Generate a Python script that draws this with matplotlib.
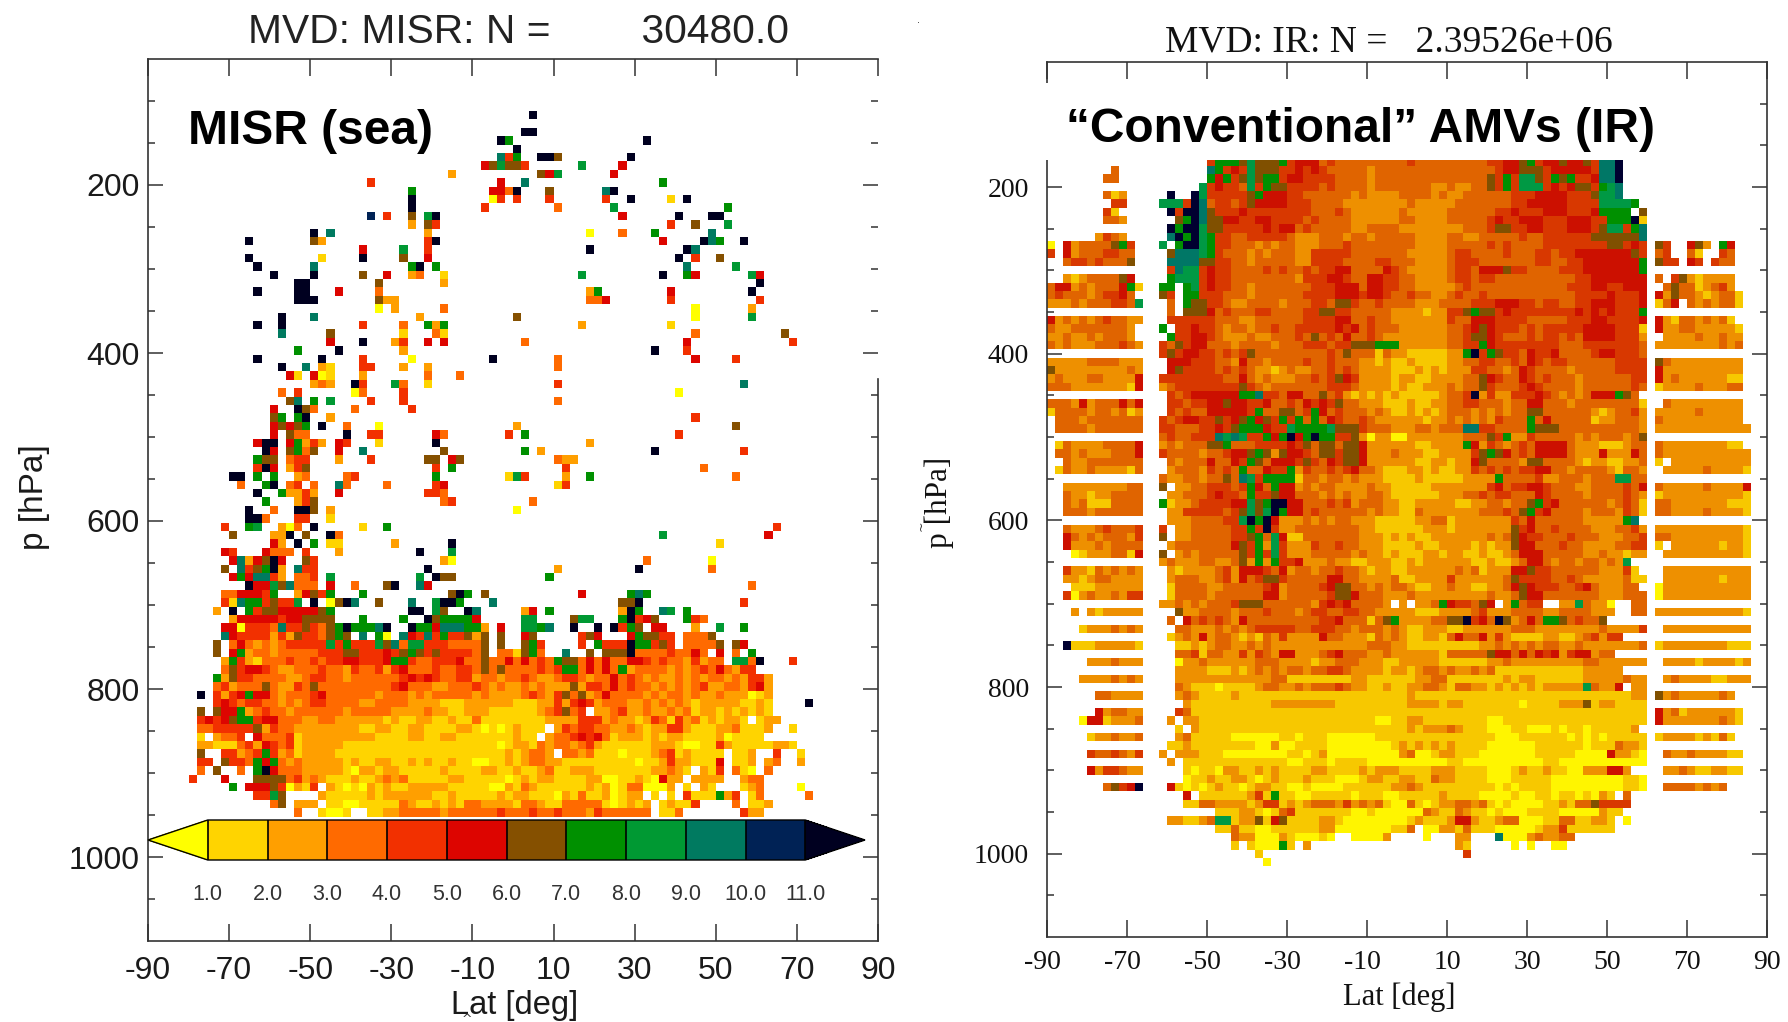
import numpy as np
import matplotlib
matplotlib.use('Agg')
import matplotlib.pyplot as plt
from matplotlib.colors import ListedColormap, BoundaryNorm
from matplotlib.patches import Rectangle
from matplotlib.cm import ScalarMappable
from matplotlib.transforms import ScaledTranslation

W, H = 1788, 1022

lat_ticks = [-90, -70, -50, -30, -10, 10, 30, 50, 70, 90]
p_major = [200, 400, 600, 800, 1000]
p_minor = [100, 150, 250, 300, 350, 450, 500, 550, 650, 700, 750, 850, 900, 950, 1050]
cbar_bounds = [1, 2, 3, 4, 5, 6, 7, 8, 9, 10, 11]
cbar_labels = ['1.0', '2.0', '3.0', '4.0', '5.0', '6.0', '7.0', '8.0', '9.0', '10.0', '11.0']

misr_colors = ['#ffff00', '#ffd400', '#ff9f00', '#ff6a00', '#f23000', '#dd0500',
               '#855000', '#009000', '#009933', '#007a60', '#002255', '#000020']
ir_colors = ['#fff500', '#f7c800', '#ee9000', '#e06400', '#d83800', '#cc1000',
             '#805000', '#009000', '#009944', '#007766', '#001144', '#000030']

# class of each cell: p row -> {column: class}, column 0 starts at -90, 2 deg wide
misr_sparse = {
    120: {47: 11},
    140: {46: 11, 47: 11},
    150: {43: 11, 44: 7, 61: 11},
    160: {45: 11},
    170: {43: 9, 44: 4, 45: 7, 48: 11, 49: 11, 50: 6, 59: 11},
    180: {41: 5, 42: 6, 43: 8, 44: 6, 45: 6, 46: 4, 53: 8, 58: 5},
    190: {37: 2, 48: 6, 49: 5, 50: 8, 57: 5},
    200: {27: 4, 43: 5, 46: 9, 63: 7},
    210: {32: 7, 42: 5, 43: 5, 44: 3, 45: 11, 49: 6, 56: 9, 57: 11},
    220: {32: 11, 42: 0, 43: 4, 45: 4, 49: 4, 56: 4, 59: 11, 64: 1, 66: 11},
    230: {32: 11, 41: 4, 50: 3, 57: 8, 71: 7},
    240: {27: 10, 29: 4, 32: 6, 34: 8, 35: 11, 58: 5, 65: 11, 69: 11, 70: 11},
    250: {32: 2, 34: 6, 35: 4, 64: 4, 67: 6, 71: 8},
    260: {20: 11, 22: 9, 34: 2, 54: 0, 58: 3, 62: 7, 69: 9},
    270: {12: 11, 20: 6, 21: 2, 34: 4, 35: 11, 63: 5, 68: 11, 69: 9, 70: 7, 73: 11},
    280: {26: 5, 31: 8, 34: 4, 54: 11, 66: 11, 67: 9},
    290: {12: 11, 21: 1, 26: 11, 31: 6, 34: 5, 65: 11, 67: 4, 70: 6},
    300: {13: 11, 20: 9, 32: 7, 33: 11, 35: 7, 66: 9, 72: 8},
    310: {15: 11, 20: 11, 26: 6, 29: 5, 32: 2, 33: 3, 36: 1, 53: 8, 63: 11, 66: 7, 67: 5, 74: 8, 75: 5},
    320: {18: 11, 19: 11, 28: 6, 36: 2, 75: 11},
    330: {13: 11, 18: 11, 19: 11, 23: 5, 28: 3, 54: 2, 55: 7, 64: 5, 74: 11},
    340: {18: 11, 19: 11, 20: 11, 28: 6, 29: 2, 30: 2, 54: 3, 55: 3, 56: 5, 64: 4, 75: 4},
    350: {28: 0, 30: 2, 36: 3, 67: 0, 74: 2},
    360: {16: 11, 20: 9, 33: 2, 45: 6, 67: 0, 74: 8},
    370: {13: 11, 16: 11, 26: 4, 31: 3, 34: 7, 35: 2, 36: 7, 53: 2, 64: 1},
    380: {16: 9, 22: 6, 31: 1, 35: 3, 36: 1, 67: 3, 78: 6},
    390: {22: 5, 26: 11, 30: 2, 31: 4, 34: 5, 36: 5, 46: 3, 66: 5, 79: 4},
    400: {18: 7, 23: 11, 31: 2, 62: 11, 66: 4},
    410: {13: 11, 21: 11, 26: 4, 32: 0, 42: 11, 50: 3, 67: 5, 72: 4},
    420: {16: 11, 19: 9, 21: 2, 22: 1, 26: 4, 27: 4, 31: 2, 34: 2, 50: 3},
    430: {17: 5, 18: 1, 20: 5, 21: 0, 22: 1, 26: 2, 34: 3, 38: 3},
    440: {20: 2, 21: 3, 22: 2, 25: 11, 26: 4, 30: 8, 31: 3, 34: 1, 50: 4, 73: 9},
    450: {16: 3, 18: 4, 25: 0, 26: 3, 31: 4, 65: 0},
    460: {17: 6, 18: 9, 20: 7, 22: 8, 27: 4, 31: 4, 50: 3},
    470: {15: 5, 18: 11, 19: 6, 20: 3, 25: 3, 32: 4},
    480: {15: 6, 16: 7, 18: 7, 19: 11, 22: 2, 67: 4},
    490: {15: 5, 16: 6, 17: 5, 18: 6, 19: 7, 21: 11, 24: 3, 28: 0, 45: 2, 72: 6},
    500: {15: 5, 17: 6, 18: 3, 19: 3, 24: 11, 27: 4, 28: 4, 35: 5, 36: 3, 44: 4, 46: 7, 65: 4},
    510: {13: 5, 14: 11, 15: 11, 17: 5, 18: 7, 19: 2, 20: 4, 21: 2, 23: 5, 24: 4, 28: 1, 35: 11, 54: 2},
    520: {14: 11, 15: 5, 17: 6, 18: 7, 19: 3, 20: 6, 23: 5, 26: 9, 36: 6, 46: 7, 48: 2, 62: 11, 73: 4},
    530: {13: 7, 14: 6, 15: 6, 17: 3, 18: 4, 19: 4, 23: 2, 27: 4, 34: 6, 35: 6, 37: 5, 38: 6, 50: 3, 51: 2, 52: 2},
    540: {13: 4, 14: 11, 15: 5, 17: 2, 18: 4, 19: 6, 35: 4, 37: 7, 51: 4, 68: 3},
    550: {10: 11, 11: 11, 13: 7, 15: 7, 18: 2, 19: 3, 24: 3, 25: 4, 35: 7, 44: 1, 45: 8, 46: 4, 51: 2, 54: 7, 72: 3},
    560: {11: 3, 14: 7, 15: 11, 17: 3, 18: 4, 20: 3, 23: 9, 24: 3, 29: 3, 35: 4, 36: 5, 50: 1, 51: 4},
    570: {13: 11, 16: 7, 17: 2, 18: 2, 19: 4, 20: 2, 23: 5, 34: 4, 35: 4, 36: 3},
    580: {14: 7, 18: 2, 19: 4, 20: 6, 36: 3, 37: 4, 47: 3},
    590: {12: 11, 15: 3, 18: 11, 19: 11, 20: 6, 22: 2, 45: 0},
    600: {12: 11, 13: 11, 14: 3, 18: 4, 19: 4, 22: 1},
    610: {9: 4, 12: 7, 13: 8, 16: 2, 17: 0, 18: 3, 20: 11, 26: 1, 29: 7, 77: 4},
    620: {10: 6, 15: 2, 16: 2, 17: 11, 19: 6, 22: 11, 23: 3, 63: 8, 76: 5},
    630: {15: 5, 16: 2, 18: 11, 20: 7, 22: 1, 23: 1, 30: 2, 37: 11, 70: 1},
    640: {9: 5, 10: 4, 14: 5, 15: 3, 16: 3, 17: 3, 19: 4, 23: 2, 33: 11, 37: 8},
    650: {10: 5, 11: 9, 12: 2, 13: 5, 14: 6, 15: 11, 16: 5, 19: 6, 20: 4, 36: 2, 37: 0, 61: 3, 69: 0},
    660: {9: 6, 11: 9, 12: 4, 13: 6, 14: 7, 15: 11, 16: 2, 18: 9, 19: 4, 20: 4, 34: 11, 50: 2, 60: 11, 69: 3},
    670: {10: 5, 11: 7, 12: 5, 13: 9, 14: 9, 15: 4, 16: 2, 18: 3, 19: 3, 20: 4, 22: 8, 33: 8, 35: 11, 36: 6, 37: 6, 49: 7},
    680: {12: 11, 13: 5, 14: 5, 15: 8, 16: 6, 17: 9, 18: 3, 19: 3, 20: 3, 22: 5, 25: 3, 29: 6, 30: 11, 33: 9, 34: 5, 74: 3},
    690: {9: 3, 10: 3, 11: 5, 12: 5, 13: 5, 14: 4, 15: 7, 18: 2, 19: 5, 20: 6, 21: 4, 22: 7, 26: 7, 37: 6, 38: 11, 39: 7, 41: 6, 53: 5, 59: 7, 60: 9, 61: 7},
    700: {9: 4, 10: 1, 11: 9, 12: 7, 13: 7, 14: 4, 15: 6, 16: 4, 17: 4, 18: 8, 20: 11, 22: 0, 23: 6, 24: 11, 25: 9, 28: 6, 32: 9, 35: 8, 36: 11, 37: 11, 38: 7, 42: 9, 58: 6, 59: 6, 60: 11, 73: 4},
    710: {8: 2, 10: 11, 12: 7, 13: 4, 14: 6, 15: 6, 16: 5, 17: 5, 18: 5, 19: 5, 20: 5, 21: 6, 22: 7, 32: 11, 33: 11, 35: 8, 36: 6, 39: 11, 40: 9, 46: 2, 47: 5, 49: 7, 58: 2, 59: 11, 60: 7, 63: 9, 64: 8, 66: 7},
}

# dense rows: ten columns in each group, '.' is no data, a/b are classes 10/11
misr_rows = {
    720: ". 2555554556 666...7... .7..b67777 5.....88.. ..688...7b 456...743.",
    730: ".........5 5044439446 4367b7779b ..b7759997 72.5..8879 ..b..b.b47 6.55...2.. 8..7",
    740: ".........9 5444424264 43676.9.70 .954947446 26.6..56.. ...465...5 76644.3336",
    750: "........6. 3532323444 4484744486 9388444333 36.6..674. ...4.7444b 77464.3333 6.65",
    760: "........6. 5723323333 3444664445 4676464444 36.331673. .9..6.666b 333343353. 5.3.7",
    770: ".........2 7421333433 4344554445 7743344453 3633535343 7663535335 5434332423 3.883b...4",
    780: ".........3 6455432233 3433243342 4533343344 3636333343 4773535372 3333232343 53244",
    790: "........72 6443333223 4433233333 3454543344 2332334322 3443233534 3232232323 3232442",
    800: "........34 2333632243 6333333333 4533322333 4323223232 2262443534 3323232342 2332452",
    810: "......b.42 4575532333 4533333323 3323233333 2322223432 4636235333 3232332322 3222012",
    820: "........45 4344332323 4433332233 3322221112 2222211122 4245423332 2323232122 2221121 .b",
    830: "......6.65 5723433233 3333233333 2222322112 2211111123 4634.22342 2322323122 1212121",
    840: "......4545 6774553332 2332222221 2112211211 3111111112 2224442322 1243142312 1221.122",
    850: "......3344 4446243322 2222221122 1122111122 101012111. 2434433223 2122442111 2231112..1",
    860: "......1.23 34.5333412 2222222211 1122112211 11111211.2 3345453122 2121221111 201111",
    870: "......2211 1342543412 2222111111 1111111111 1110122132 3323421111 1122210011 4211111221",
    880: "......6..4 4234742312 2221111111 1111111111 1111212332 .332311101 1123412111 1.112..4.. 1",
    890: "......44.6 4437573232 2222121122 1121211211 0011212332 2111111111 0112422111 5.112.23.. 2",
    900: "......3.6. .3.7b53332 2222102212 2111112111 1221121123 1122211111 1122321.21 4.310.3",
    910: ".....4...5 ...6666342 3211121123 2311111221 1111012122 1111220011 210522.222 2..233",
    920: ". 7.55564021 4.21010212 1122222111 1100213211 1111212013 30002.1.21 ...123.... 0",
    930: ". ...4486... .211111212 2222211211 1112122111 0213112012 2.1.1.4111 724.13.... .3",
    940: ". .....36.22 2.11001111 1321121213 3222213321 1333331012 12.12114.. ..3.112",
    950: ". ........3. .1001..112 2333332333 3334333433 4333243333 33.113.... ...422",
}

ir_rows = {
    170: ". . 4777686667 4555343333 3333343333 3333344556 7455655649 9b",
    180: "........3 . 9745486664 4545433333 2333333333 3333334556 6645555549 9b",
    190: ".......33 . 7574686774 5544443333 2333333333 3333364748 8647674459 9b",
    200: ". .........8 4544384766 4444343333 2333333322 3223364748 8845456647 89",
    210: ".......312 .....b..b8 4444467555 4433333323 2222333323 2233333344 4555544468 89",
    220: "........44 ....8884b9 3443465555 4443333222 2222232222 2333333344 5555544448 8887",
    230: ".......41. .....b4bb9 6444544444 4443334322 2222322222 3333334454 4455544457 777.6",
    240: ".......332 ......67b9 6655445544 4434333322 2222332222 3333345445 5544455544 777b1",
    250: ". .....b7bb8 6644444545 5343333322 3333222222 2233346644 5544455546 88479",
    260: "......2432 .....9b7b8 7443344444 3222333233 2333332222 3322333334 3344444466 66669",
    270: "0.52333367 4...8.7bb8 7443332323 3222333433 3333332222 3333343433 3344444444 66454",
    280: "4.52333443 3....69998 7433323233 3224444433 3333322222 3443333433 3443445555 55564",
    290: "..34434333 6....99996 6443323333 3224444333 3443332222 3444333333 3443344555 55557",
    300: ". .....49884 5443333434 3343445533 3354322222 3443555644 3333444555 55557",
    310: "..21233336 5....78884 5443333333 3244455433 5544332222 3443443333 3333334455 55555",
    320: "3552323335 71..77.784 5443323333 3334445553 5544332222 2343333333 3333344455 44555",
    330: "3433323445 3...64.774 4433323333 3344445554 5543343322 3433433333 3333334444 54445",
    340: "2223233344 38...3.766 4432233332 3334436643 3433332223 3334445554 4344334455 54445",
    350: ". .....3.666 5343334433 3344664433 3332222122 4467664544 4444445454 54447",
    360: "5232323433 22...44444 4333223333 3344445533 4332222222 4335554444 3333344455 44445",
    370: "3223333333 2...7.4454 4323323343 3444445453 4333222222 3345654443 4344444555 54441",
    380: "2232232333 2....74455 4322232233 3436343533 4322222222 3346654333 4344343555 54442",
    390: "3232223334 32..436455 3332333323 3344434466 6777222222 3344754444 4444333444 44443",
    400: ". ....464554 4343463333 3333343633 3132211111 227b476443 5445333345 54443",
    410: "2222233332 22...55544 4332533233 3343343332 2121121111 2233443343 5434433333 34444",
    420: "6222222222 32...56444 4343432212 3223343432 2221112121 2224433235 4333323333 34444",
    430: "2322233222 25..444444 4433532322 2334346542 2221221122 2233654335 4343332333 33344",
    440: "3332222222 15..234444 4444643233 3333344432 2221211222 3233643334 5433332333 33343",
    450: ". .....43455 5555779443 5533634212 1212111112 334b242244 4543232355 5763.",
    460: "3332523335 35...44344 5565544533 4354546332 2211121122 3344333233 5533323333 33331",
    470: "1333323323 12...43433 5555547336 6347534333 2321121212 3332323233 6633333321 23342",
    480: ".333233333 33..434554 4645675647 4737354334 3222222122 3232324333 7353333312 23332",
    490: ".333323333 33..443334 4546777544 8777786664 3332223323 3399443333 7666333333 33332",
    500: ". ....343344 4989844757 b57b774462 0220022222 2233364722 4333332323 33236",
    510: ".132222333 35..232333 6673334444 5463663665 2222221122 2275243234 3555532221 11233",
    520: ".332322233 35..433332 3345567626 5543664665 2223222112 2224676534 3555532225 22253",
    530: "..32233333 33...32333 5335476355 5464354665 2222221122 1225633332 6633332122 11223",
    540: ".132232222 13...23332 4343733544 7243343453 3211122121 1224343434 4553323333 21332",
    550: ". ....322332 3363984777 7133233232 2211112111 1122227333 3422333233 38833",
    560: "..22222222 33..6.2233 4443475375 5232332222 3221111122 2222245344 5543332233 33435",
    570: "..32212233 33...22333 4544374465 5333232322 3321111112 2233434433 3543333233 33432",
    580: "..32311133 33..712234 44455867bb 5533343423 3322112222 2112233233 6745333333 23431",
    590: "..33323333 33...22444 44346868b7 5534333333 2322113222 2222333436 7453333233 32431",
    600: ". .....22233 33448b7b52 2232323322 2111112233 1222222243 5333333222 2279.",
    610: "..32223433 34..4.2233 3334474b42 2333333332 2111111222 1222222264 5334333322 23342",
    620: "..53232333 24..6.2233 3334467385 1133333332 2212121122 2222232365 4433343332 22334",
    630: "..52223233 33...23333 3335647284 2224334332 2211112112 2221212265 5333433222 23344",
    640: "...0122233 15..6.2323 3333647484 2223333323 2212111221 2211211235 5533333223 22122",
    650: ". ....232223 3223627274 4522232211 2221121222 2221121123 5532332332 328..",
    660: "..42213232 32...21222 2342555435 2332334332 1221122222 2323122255 6443333332 2241.",
    670: "..22123322 22...23332 2342534664 3333355332 2223112222 4222222364 4443343222 22311",
    680: "...1112222 22...13333 2233333452 3333456633 2323321122 3221122356 5444334532 2233.",
    690: "..40232232 44...13333 2333333552 3333346653 3322232222 2222232236 5533333332 22333",
    700: ". ....223232 3334666333 3332454533 332.2.2237 544365.273 44..228322 0..33",
    710: "...2.21222 22....6223 3332333433 3234433443 3222221112 2223422233 3322333322 2..33",
    720: ". .....3.534 3432533333 3333445333 1367222233 66b453b623 5377634336",
    730: "....122232 32....3322 2323234444 4334443323 3323211222 1122222233 3222222223 22224",
    740: ". .....12325 2332121324 2222533222 1323211221 3533524211 1122112342 44",
    750: "..b1112222 21....1121 2332232322 2222222222 3332211111 1111223232 3233223222 22223",
    760: ". ......3341 3322424325 5222345333 2232222221 3333365535 3545245523 3",
    770: ".....22232 22....0223 2222223332 2221223332 2211222221 1111122322 2222222332 22222",
    780: ". ......2222 1112123232 3323344322 2212212332 3223231111 1111111222 22",
    790: "....222232 32....2222 2222222233 1111111122 1111112233 1111111212 2111111222 22322",
    800: ". ......3211 1011112332 2323334322 1121122332 1332212121 2122222832 25.22",
    810: "......3322 22....2321 1112111111 1111111111 1111121111 1111111111 1111111111 11122",
    820: ". .......211 1111111122 2222221111 1111122221 2211111110 1111222612 21111",
    830: "......5233 22....4311 1111111111 1111111111 1111111111 1111111111 1111111111 11111",
    840: "....055122 23...2.221 1111111111 1111111111 1001122111 1111100111 1111111111 11111",
    850: ". ......1.21 1111111111 1111111111 1111121222 3211100011 0001011011 1112",
    860: ".....12232 23....2311 1110000001 1011100000 0111111111 1111110001 1111101010 11111",
    870: ". .....11211 1111110020 0111100000 0001212121 2111100000 0111111011 13221",
    880: ".....43343 24..2.2221 1100000000 1101200000 0000230012 2111000000 0111110000 52210",
    890: ". .....2.111 1111111111 0011101111 0000000000 1100000000 0011000000 00000",
    900: ".....52443 22.....101 1022112121 1112211112 1222111122 2111100012 1121100222 552",
    910: ". .......011 2112210121 1121110001 2211221132 2111100011 1110000000 00110",
    920: ".......364 5b...51010 1211012211 0010000111 1112232111 1111110101 1110000000 00110",
    930: ". .......5.1 1111124171 1001111101 1100111112 1111000010 0110110102 1.3",
    940: ". .......113 3222212441 2123332423 2310031012 2332310100 0011213364 444",
    950: ". . .111221013 4111111100 1000000321 1321101000 1111000002 11",
    960: ". .....22112 3881226156 1111221000 0000012111 2552112330 0011331122 1.0",
    970: ". . .113110011 1111220000 000113.002 2131110000 0122411111 1",
    980: ". . ...3220002 100010..00 002....0.. .22...9000 232233",
    990: ". . ...1.10007 1.2 . .21.....0. 0..00",
    1000: ". . ......1 . . ..4",
    1010: ". . .......0",
}

# right-hand block of the IR panel, first character is column 76
ir_right = {
    270: "64..562.75", 280: "34..31..43", 290: "644.54.433", 310: "3.46212222",
    320: ".363312342", 330: "52633212331", 340: "135.3232331", 360: "5213323231",
    370: "52233222221", 380: ".2222322322", 390: "22222222323", 410: "63222222222",
    420: "52222222222", 430: "52322222211", 440: "12222322233", 460: ".3222222222",
    470: "22222322222", 480: "32222222222", 490: "222222222222", 510: "32222222211",
    520: "322222222222", 530: "1.2222222222", 540: ".22222322221", 560: "322222322225",
    570: "122222222221", 580: "332222222111", 590: "332222322221", 610: "222222222221",
    620: "332222222221", 630: "1.2222221221", 640: ".22222222221", 660: ".22222222222",
    670: ".22222221222", 680: "022222222222", 690: "022222222222", 710: "222222222221",
    730: ".22222222222", 750: "122222222111", 770: ".22221222212", 790: ".23222211222",
    810: "6232222232", 830: "52312222221", 840: "52222222321", 860: "1222212131",
    880: ".3223222211", 900: ".2232112211", 920: ".33332323",
}


def axes_box(left, top, right, bottom):
    return [left / W, 1 - bottom / H, (right - left) / W, (bottom - top) / H]


def put_row(grid, i, text, start=0):
    for j, ch in enumerate(text):
        if ch != '.' and start + j < 90:
            grid[i, start + j] = int(ch, 16)


def grouped(row):
    return ''.join(g.ljust(10, '.')[:10] for g in row.split())


def misr_grid():
    levels = np.arange(120, 960, 10)
    grid = np.full((len(levels), 90), -1.0)
    for i, p in enumerate(levels):
        p = int(p)
        for col, cls in misr_sparse.get(p, {}).items():
            grid[i, col] = cls
        if p in misr_rows:
            put_row(grid, i, grouped(misr_rows[p]))
    return levels, grid


def ir_grid():
    levels = np.arange(170, 1020, 10)
    grid = np.full((len(levels), 90), -1.0)
    for i, p in enumerate(levels):
        p = int(p)
        put_row(grid, i, grouped(ir_rows[p]))
        if p in ir_right:
            put_row(grid, i, ir_right[p], start=76)
    return levels, grid


def draw_panel(ax, levels, grid, colors, shift, tick_size, family, pad_y, pad_x, tick_color):
    lat_edges = np.arange(-90, 91, 2)
    p_edges = np.append(levels - 5, levels[-1] + 5) + shift
    cmap = ListedColormap(colors)
    ax.pcolormesh(lat_edges, p_edges, np.ma.masked_less(grid, 0), cmap=cmap, vmin=-0.5, vmax=11.5)
    ax.set_xlim(-90, 90)
    ax.set_ylim(1100, 50)
    ax.set_xticks(lat_ticks)
    ax.set_xticklabels([str(t) for t in lat_ticks], family=family, fontsize=tick_size, color=tick_color)
    ax.set_yticks(p_major)
    ax.set_yticklabels([str(t) for t in p_major], family=family, fontsize=tick_size, color=tick_color)
    ax.set_yticks(p_minor, minor=True)
    ax.tick_params(axis='x', which='major', direction='in', top=True, length=12.5, width=1.1, color='#333333', pad=pad_x)
    ax.tick_params(axis='y', which='major', direction='in', right=True, length=10.5, width=1.1, color='#333333', pad=pad_y)
    ax.tick_params(axis='y', which='minor', direction='in', right=True, length=5, width=1.1, color='#333333')
    for s in ax.spines.values():
        s.set_linewidth(1.2)
        s.set_color('#333333')


fig = plt.figure(figsize=(W / 100, H / 100), dpi=100, facecolor='white')

# MISR panel
ax1 = fig.add_axes(axes_box(148, 59, 878, 941))
levels, grid = misr_grid()
draw_panel(ax1, levels, grid, misr_colors, -3, 23, 'Liberation Sans', 6, 10.5, '#1a1a1a')
ax1.spines['right'].set_bounds(1100, 431)

# cax spans tip to tip, the colorbar fits its triangles inside it
cax = fig.add_axes(axes_box(148, 820, 865, 860))
cmap = ListedColormap(misr_colors[1:11]).with_extremes(under=misr_colors[0], over=misr_colors[11])
norm = BoundaryNorm(cbar_bounds, 10)
cb = fig.colorbar(ScalarMappable(norm=norm, cmap=cmap), cax=cax, orientation='horizontal',
                  extend='both', extendfrac=0.1, drawedges=True, spacing='uniform')
cb.set_ticks(cbar_bounds)
cb.set_ticklabels(cbar_labels, family='Liberation Sans', fontsize=15.5, color='#333333')
cax.tick_params(length=0, pad=17)
cb.outline.set_linewidth(1.0)
cb.dividers.set_linewidth(1.2)

# IR panel
ax2 = fig.add_axes(axes_box(1047, 62, 1767, 937))
levels, grid = ir_grid()
draw_panel(ax2, levels, grid, ir_colors, 0, 20, 'Liberation Serif', 13, 9, '#111111')
ax2.add_patch(Rectangle((1044 / W, 1 - 160 / H), 660 / W, 77 / H, transform=fig.transFigure,
                        facecolor='white', edgecolor='none', zorder=5, clip_on=False))
# the negative labels sit a little left of their ticks in this panel
for lab, t in zip(ax2.get_xticklabels(), lat_ticks):
    if t < 0:
        lab.set_transform(lab.get_transform() + ScaledTranslation(-5 / 100, 0, fig.dpi_scale_trans))

fig.text(518 / W, 1 - 32 / H, 'MVD: MISR: N =        30480.0', ha='center', va='center',
         family='Liberation Sans', fontsize=29.3, color='#222222')
fig.text(1389 / W, 1 - 42 / H, 'MVD: IR: N =   2.39526e+06', ha='center', va='center',
         family='Liberation Serif', fontsize=27, color='#111111')
fig.text(311 / W, 1 - 132 / H, 'MISR (sea)', ha='center', va='center',
         family='Liberation Sans', fontsize=34.5, fontweight='bold', color='black', zorder=10)
fig.text(1360 / W, 1 - 129 / H, '\u201cConventional\u201d AMVs (IR)', ha='center', va='center',
         family='Liberation Sans', fontsize=34.5, fontweight='bold', color='black', zorder=10)
fig.text(515 / W, 1 - 1005 / H, 'Lat [deg]', ha='center', va='center',
         family='Liberation Sans', fontsize=23.5, color='#1a1a1a')
fig.text(34 / W, 1 - 497 / H, 'p [hPa]', ha='center', va='center', rotation=90,
         family='Liberation Sans', fontsize=24, color='#1a1a1a')
fig.text(1399 / W, 1 - 997 / H, 'Lat [deg]', ha='center', va='center',
         family='Liberation Serif', fontsize=22, color='#111111')
fig.text(939 / W, 1 - 502 / H, 'p [hPa]', ha='center', va='center', rotation=90,
         family='Liberation Serif', fontsize=22.5, color='#111111')
# stray marks from the original slide
fig.text(919 / W, 1 - 20 / H, '.', ha='center', va='center', fontsize=7, color='#333333')
fig.text(467 / W, 1 - 1019 / H, '^', ha='center', va='center', fontsize=9, color='#333333')
fig.text(921 / W, 1 - 526 / H, '~', ha='center', va='center', fontsize=9, rotation=90, color='#333333')

fig.savefig('out.png', dpi=100)
